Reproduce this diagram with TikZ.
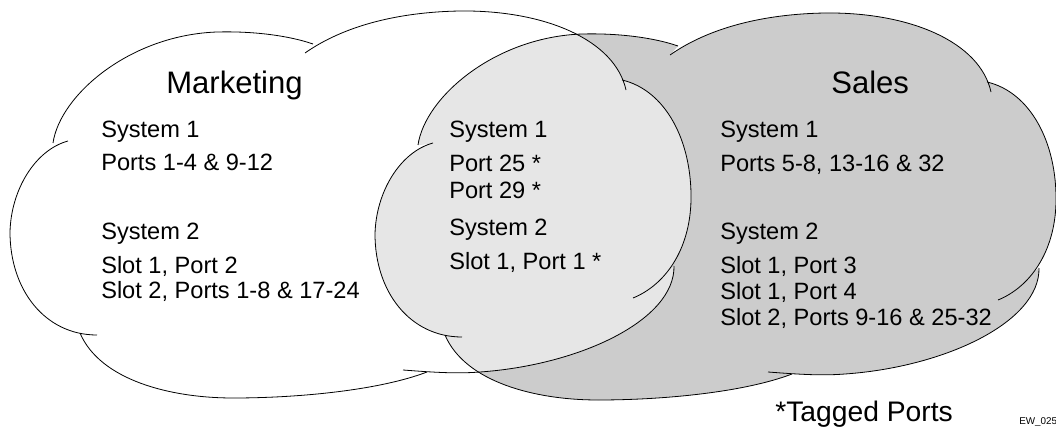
\documentclass[tikz,border=0pt]{standalone}
\usepackage{fontspec}
\setmainfont{Liberation Sans}
\definecolor{salesgray}{RGB}{204,204,204}
\definecolor{sharedgray}{RGB}{230,230,230}
% closed outline of one cloud, for filling
\newcommand{\cloudfillpath}{(53,143) .. controls (60,95) and (130,35) .. (217,32) .. controls (255,31) and (290,36) .. (313,44) -- (305,53) .. controls (345,25) and (400,12) .. (460,11) .. controls (545,10) and (615,40) .. (626,90) -- (622,80) .. controls (665,90) and (692,140) .. (691,200) .. controls (690,250) and (665,285) .. (633,298) -- (674,266) .. controls (675,320) and (580,365) .. (480,372) .. controls (455,374) and (430,372) .. (403,370) -- (427,372) .. controls (380,390) and (300,398) .. (233,398) .. controls (170,398) and (100,380) .. (80,333) -- (97,335) .. controls (45,335) and (10,290) .. (10,232) .. controls (11,190) and (35,150) .. (68,141) -- cycle}
% the six open lobes of one cloud, for stroking
\newcommand{\cloudlobes}{(68,141) .. controls (35,150) and (11,190) .. (10,232) .. controls (10,290) and (45,335) .. (97,335) (53,143) .. controls (60,95) and (130,35) .. (217,32) .. controls (255,31) and (290,36) .. (313,44) (305,53) .. controls (345,25) and (400,12) .. (460,11) .. controls (545,10) and (615,40) .. (626,90) (622,80) .. controls (665,90) and (692,140) .. (691,200) .. controls (690,250) and (665,285) .. (633,298) (674,266) .. controls (675,320) and (580,365) .. (480,372) .. controls (455,374) and (430,372) .. (403,370) (80,333) .. controls (100,380) and (170,398) .. (233,398) .. controls (300,398) and (380,390) .. (427,372)}
\begin{document}
\begin{tikzpicture}[x=0.75pt,y=0.75pt,yscale=-1,xscale=1,
  bodytext/.style={anchor=base west,inner sep=0pt,font=\fontsize{17.7}{21}\selectfont},
  titletext/.style={anchor=base west,inner sep=0pt,font=\fontsize{23.3}{28}\selectfont}]
\useasboundingbox (0,0) rectangle (1056,431);

%Shape: Cloud Marketing
\fill [white] \cloudfillpath;
%Shape: Cloud Sales
\begin{scope}[shift={(365,2)}]
\fill [salesgray] \cloudfillpath;
\end{scope}
%Shape: shared part
\begin{scope}
\clip \cloudfillpath;
\begin{scope}[shift={(365,2)}]
\fill [sharedgray] \cloudfillpath;
\end{scope}
\end{scope}
%Curve Lines: outlines
\draw [line width=0.6pt] \cloudlobes;
\begin{scope}[shift={(365,2)}]
\draw [line width=0.6pt] \cloudlobes;
\end{scope}

% Text Node
\draw (166,93.5) node (mktitle) [titletext] {Marketing};
% Text Node
\draw (831,94) node (salestitle) [titletext] {Sales};
% Text Node
\draw (101,137.5) node (mksysa) [bodytext] {System 1};
% Text Node
\draw (101,171) node (mkportsa) [bodytext] {Ports 1-4 \& 9-12};
% Text Node
\draw (101,239) node (mksysb) [bodytext] {System 2};
% Text Node
\draw (101,273) node (mkslota) [bodytext] {Slot 1, Port 2};
% Text Node
\draw (101,298.5) node (mkslotb) [bodytext] {Slot 2, Ports 1-8 \& 17-24};
% Text Node
\draw (449,137.5) node (shsysa) [bodytext] {System 1};
% Text Node
\draw (449,171.5) node (shporta) [bodytext] {Port 25 *};
% Text Node
\draw (449,198) node (shportb) [bodytext] {Port 29 *};
% Text Node
\draw (449,235.5) node (shsysb) [bodytext] {System 2};
% Text Node
\draw (449,269) node (shslota) [bodytext] {Slot 1, Port 1 *};
% Text Node
\draw (720,137.5) node (slsysa) [bodytext] {System 1};
% Text Node
\draw (720,171.5) node (slportsa) [bodytext] {Ports 5-8, 13-16 \& 32};
% Text Node
\draw (720,239) node (slsysb) [bodytext] {System 2};
% Text Node
\draw (720,273) node (slslota) [bodytext] {Slot 1, Port 3};
% Text Node
\draw (720,299) node (slslotb) [bodytext] {Slot 1, Port 4};
% Text Node
\draw (720,325) node (slslotc) [bodytext] {Slot 2, Ports 9-16 \& 25-32};
% Text Node
\draw (775,421) node (tagged) [anchor=base west,inner sep=0pt,font=\fontsize{21.2}{25}\selectfont] {*Tagged Ports};
% Text Node
\draw (1019,424.5) node (figid) [anchor=base west,inner sep=0pt,font=\fontsize{7.4}{9}\selectfont] {EW\_025};

\end{tikzpicture}
\end{document}
